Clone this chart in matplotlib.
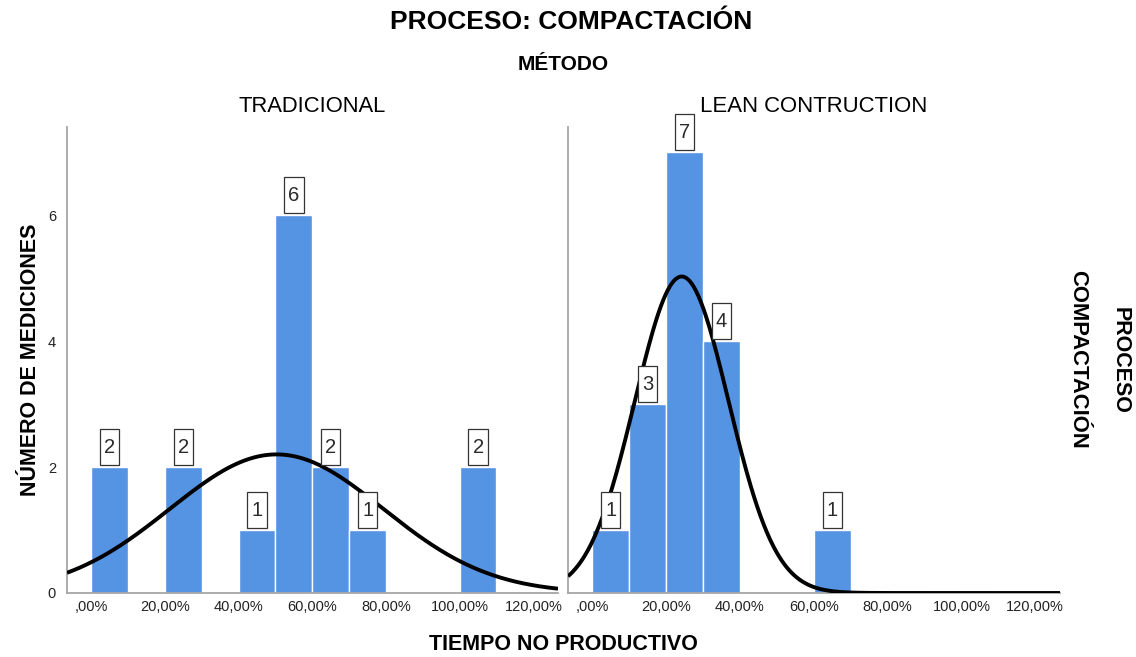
import numpy as np
import matplotlib
matplotlib.use("Agg")
import matplotlib.pyplot as plt
from matplotlib.path import Path

plt.rcParams['font.family'] = ['Liberation Sans', 'DejaVu Sans']

# Histogram bins (percent of non-productive time), 10-point wide
bin_width = 10
tradicional_bin_start = [0, 20, 40, 50, 60, 70, 100]
tradicional_counts = [2, 2, 1, 6, 2, 1, 2]
lean_bin_start = [0, 10, 20, 30, 60]
lean_counts = [1, 3, 7, 4, 1]

# Fitted normal curve parameters (mean, standard deviation, in %)
tradicional_mean, tradicional_sd = 50.3, 29.0
lean_mean, lean_sd = 24.2, 12.7

x_ticks = [0, 20, 40, 60, 80, 100, 120]
x_tick_labels = [",00%", "20,00%", "40,00%", "60,00%", "80,00%", "100,00%", "120,00%"]
y_ticks = [0, 2, 4, 6]

panel_titles = ["TRADICIONAL", "LEAN CONTRUCTION"]

bar_color = "#5593e3"
spine_color = "#a6a6a6"

fig = plt.figure(figsize=(11.36, 6.57), dpi=100)
W, H = 1136, 657


def px_axes(left, top, right, bottom):
    return fig.add_axes([left / W, 1 - bottom / H, (right - left) / W, (bottom - top) / H])


def tall_box(x0, y0, width, height, mutation_size):
    # Rectangular label frame, taller than wide around a single digit
    px = 0.20 * mutation_size
    py = 0.42 * mutation_size
    x0, y0 = x0 - px, y0 - py
    x1, y1 = x0 + width + 2 * px, y0 + height + 2 * py
    return Path([(x0, y0), (x1, y0), (x1, y1), (x0, y1), (x0, y0)], closed=True)


ax_left = px_axes(67, 127, 558, 593)
ax_right = px_axes(568, 127, 1060, 593)

panels = [
    (ax_left, tradicional_bin_start, tradicional_counts, tradicional_mean, tradicional_sd),
    (ax_right, lean_bin_start, lean_counts, lean_mean, lean_sd),
]

xlim = (-6.6, 126.7)
for i, (ax, starts, counts, mu, sd) in enumerate(panels):
    centers = np.array(starts) + bin_width / 2
    ax.bar(centers, counts, width=bin_width, color=bar_color,
           edgecolor="white", linewidth=1.0, zorder=2)

    n_total = sum(counts)
    xs = np.linspace(xlim[0], xlim[1], 600)
    ys = n_total * bin_width / (sd * np.sqrt(2 * np.pi)) * np.exp(-0.5 * ((xs - mu) / sd) ** 2)
    ax.plot(xs, ys, color="black", linewidth=2.8, zorder=3, solid_capstyle="butt")

    for c, v in zip(centers, counts):
        ax.annotate(str(v), xy=(c, v), xytext=(0, 7.5), textcoords="offset points",
                    ha="center", va="bottom", fontsize=14.5, color="#2a2a2a", zorder=5,
                    bbox=dict(boxstyle=tall_box, facecolor="white",
                              edgecolor="#333333", linewidth=0.9))

    ax.set_xlim(*xlim)
    ax.set_ylim(0, 7.4)
    ax.set_xticks(x_ticks)
    ax.set_xticklabels(x_tick_labels, fontsize=10.5, color="#222222")
    ax.tick_params(axis="both", length=0, pad=5)
    for side in ("top", "right"):
        ax.spines[side].set_visible(False)
    for side in ("left", "bottom"):
        ax.spines[side].set_color(spine_color)
        ax.spines[side].set_linewidth(1.3)

    if i == 0:
        ax.set_yticks(y_ticks)
        ax.set_yticklabels([str(t) for t in y_ticks], fontsize=10.5, color="#222222")
        ax.tick_params(axis="y", pad=8)
    else:
        ax.set_yticks([])

    ax.set_facecolor("none")

fig.text(571 / W, 1 - 22 / H, "PROCESO: COMPACTACIÓN", ha="center", va="center",
         fontsize=19, fontweight="bold")
fig.text(563 / W, 1 - 65 / H, "MÉTODO", ha="center", va="center",
         fontsize=15, fontweight="bold")
fig.text(312 / W, 1 - 107 / H, panel_titles[0], ha="center", va="center", fontsize=15.8)
fig.text(814 / W, 1 - 107 / H, panel_titles[1], ha="center", va="center", fontsize=15.9)
fig.text(563 / W, 1 - 645 / H, "TIEMPO NO PRODUCTIVO", ha="center", va="center",
         fontsize=15.5, fontweight="bold")
fig.text(31 / W, 1 - 360 / H, "NÚMERO DE MEDICIONES", ha="center", va="center",
         rotation=90, fontsize=15.5, fontweight="bold")
fig.text(1120 / W, 1 - 360 / H, "PROCESO", ha="center", va="center",
         rotation=-90, fontsize=15.5, fontweight="bold")
fig.text(1078 / W, 1 - 359 / H, "COMPACTACIÓN", ha="center", va="center",
         rotation=-90, fontsize=15.8, fontweight="bold")

fig.savefig("out.png", dpi=100, facecolor="white")
